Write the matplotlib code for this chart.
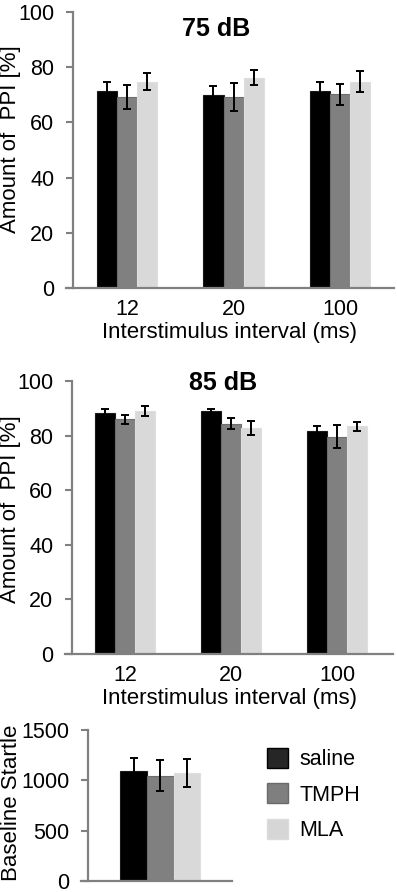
"""Prepulse inhibition at 75/85 dB and baseline startle, saline vs TMPH vs MLA."""

import matplotlib

matplotlib.use("Agg")
import matplotlib.pyplot as plt  # noqa: E402
import numpy as np  # noqa: E402
from matplotlib.patches import Patch  # noqa: E402

plt.rcParams["font.family"] = ["Liberation Sans", "DejaVu Sans"]

GROUPS = ["saline", "TMPH", "MLA"]
ISI_LABELS = ["12", "20", "100"]

# PPI [%] at 75 dB, one list per treatment across ISI 12 / 20 / 100 ms
PPI75_SALINE = [71.5, 69.8, 71.5]
PPI75_TMPH = [69.2, 69.2, 70.2]
PPI75_MLA = [74.8, 76.2, 74.8]
ERR75_SALINE = [3.0, 3.4, 3.0]
ERR75_TMPH = [4.4, 5.0, 3.8]
ERR75_MLA = [3.2, 2.8, 3.8]

# PPI [%] at 85 dB
PPI85_SALINE = [88.4, 89.0, 81.8]
PPI85_TMPH = [85.9, 84.4, 79.5]
PPI85_MLA = [89.0, 82.8, 83.4]
ERR85_SALINE = [1.5, 0.9, 1.6]
ERR85_TMPH = [1.6, 2.1, 4.2]
ERR85_MLA = [1.7, 2.6, 1.6]

# baseline startle amplitude
STARTLE = [1096, 1046, 1070]
STARTLE_ERR = [122, 155, 141]

COLORS = ["#000000", "#808080", "#d9d9d9"]
EDGES = ["#1a1a1a", "#6e6e6e", "#dedede"]
LEG_COLORS = ["#262626", "#7f7f7f", "#d6d6d6"]
LEG_EDGES = ["#000000", "#6a6a6a", "#dcdcdc"]
SPINE = "#808080"
FS = 16
TICK_FS = 15.5
W, H = 397, 892
ERR_KW = dict(ecolor="black", elinewidth=1.4, capsize=3, capthick=1.4)


def box(left, top, right, bottom):
    # pixel box (from top-left) -> figure fraction rect
    return [left / W, 1 - bottom / H, (right - left) / W, (bottom - top) / H]


def style(ax):
    for s in ("top", "right"):
        ax.spines[s].set_visible(False)
    for s in ("left", "bottom"):
        ax.spines[s].set_color(SPINE)
        ax.spines[s].set_linewidth(1.6)
    # x axis line sticks out left of the y spine, like the original
    ax.spines["left"].set_position(("outward", -5.0))
    ax.tick_params(axis="y", colors=SPINE, width=1.5, length=5, labelsize=TICK_FS,
                   labelcolor="black", pad=8.5)
    ax.tick_params(axis="x", length=0, labelsize=TICK_FS, pad=8)


def ppi_panel(ax, vals, errs, title, tpos, xlim, lab_y):
    x = np.arange(len(ISI_LABELS))
    w = 0.188
    for i, (v, e) in enumerate(zip(vals, errs)):
        ax.bar(x + (i - 1) * w, v, w, color=COLORS[i], edgecolor=EDGES[i], linewidth=0.8,
               yerr=e, error_kw=ERR_KW)
    ax.set_xlim(*xlim)
    ax.set_ylim(0, 100)
    ax.set_yticks([0, 20, 40, 60, 80, 100])
    ax.set_xticks(x)
    ax.set_xticklabels(ISI_LABELS)
    ax.set_xlabel("Interstimulus interval (ms)", fontsize=FS, labelpad=1.5)
    ax.set_ylabel("Amount of  PPI [%]", fontsize=FS)
    ax.yaxis.set_label_coords(21 / W, 1 - lab_y / H, transform=fig.transFigure)
    ax.text(tpos[0] / W, 1 - tpos[1] / H, title, transform=fig.transFigure, ha="center",
            va="center", fontsize=18, fontweight="bold")
    style(ax)


fig = plt.figure(figsize=(W / 100, H / 100), dpi=100)

ax1 = fig.add_axes(box(66, 12, 394, 288))
ppi_panel(ax1, [PPI75_SALINE, PPI75_TMPH, PPI75_MLA], [ERR75_SALINE, ERR75_TMPH, ERR75_MLA],
          "75 dB", (216, 29), (-0.573, 2.507), 139)

ax2 = fig.add_axes(box(65, 381, 393, 654))
ppi_panel(ax2, [PPI85_SALINE, PPI85_TMPH, PPI85_MLA], [ERR85_SALINE, ERR85_TMPH, ERR85_MLA],
          "85 dB", (223, 383), (-0.566, 2.525), 509)

ax3 = fig.add_axes(box(81, 730, 232, 881))
xb = np.arange(len(GROUPS)) - 1
for i in range(len(GROUPS)):
    ax3.bar(xb[i], STARTLE[i], 1.0, color=COLORS[i], edgecolor=EDGES[i], linewidth=0.8,
            yerr=STARTLE_ERR[i], error_kw=ERR_KW)
ax3.set_xlim(-2.98, 2.7)
ax3.set_ylim(0, 1500)
ax3.set_yticks([0, 500, 1000, 1500])
ax3.set_xticks([])
ax3.set_ylabel("Baseline Startle", fontsize=FS)
ax3.yaxis.set_label_coords(22.5 / W, 1 - 803 / H, transform=fig.transFigure)
style(ax3)

handles = [Patch(facecolor=c, edgecolor=e, linewidth=1) for c, e in zip(LEG_COLORS, LEG_EDGES)]
fig.legend(handles, GROUPS, loc="upper left", bbox_to_anchor=(266.5 / W, 1 - 748 / H),
           frameon=False, fontsize=15.5, handlelength=1.02, handleheight=1.02,
           labelspacing=0.62, handletextpad=0.5, borderpad=0, borderaxespad=0)

fig.savefig("out.png", dpi=100)
